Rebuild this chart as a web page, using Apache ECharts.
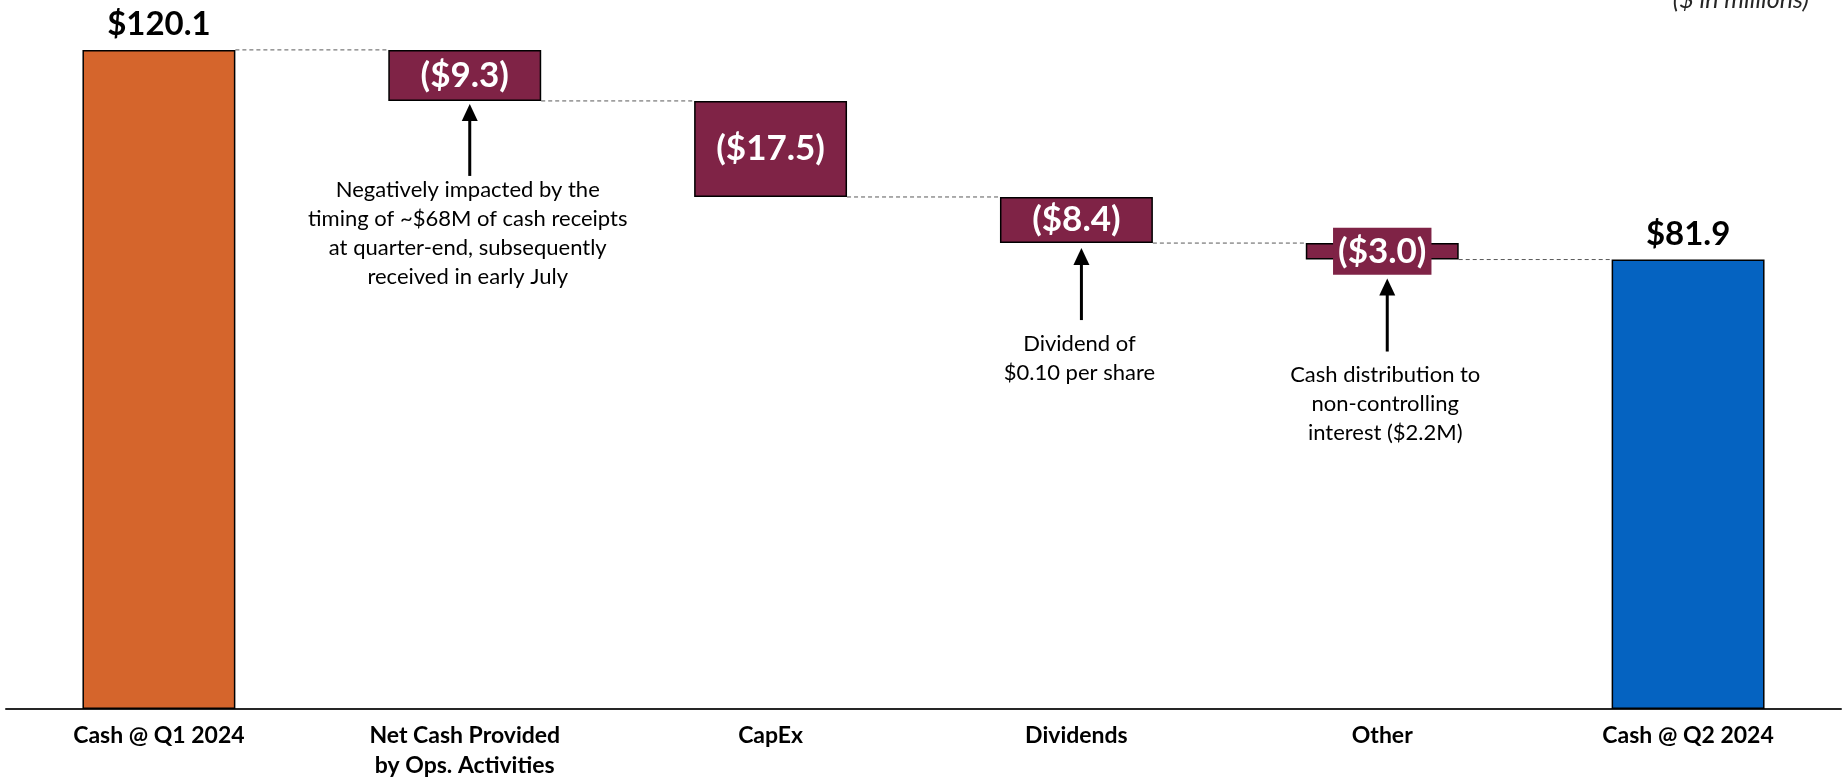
<!DOCTYPE html>
<html>
<head>
<meta charset="utf-8">
<script src="https://cdn.jsdelivr.net/npm/echarts@6/dist/echarts.min.js"></script>
<style>
  html, body { margin: 0; padding: 0; background: #ffffff; }
  #chart { width: 1845px; height: 781px; }
</style>
</head>
<body>
<div id="chart"></div>
<script>
// ---- data ----
const categories = ['Cash @ Q1 2024', 'Net Cash Provided\nby Ops. Activities', 'CapEx', 'Dividends', 'Other', 'Cash @ Q2 2024'];
const startCash = 120.1;
const changes = [-9.3, -17.5, -8.4, -3.0];
const endCash = 81.9;
const annotationCats = [1, 3, 4];
const annotationTexts = [
  'Negatively impacted by the\ntiming of ~$68M of cash receipts\nat quarter-end, subsequently\nreceived in early July',
  'Dividend of\n$0.10 per share',
  'Cash distribution to\nnon-controlling\ninterest ($2.2M)'
];
const unitNote = '($ in millions)';

// ---- derived ----
const FONT = 'Lato, "Open Sans", sans-serif';
const ORANGE = '#D5652C', MAROON = '#7F2346', BLUE = '#0563C1';
const levels = [startCash];
changes.forEach(c => levels.push(+(levels[levels.length - 1] + c).toFixed(1)));
const baseData = [0];
const valData = [];
valData.push({ value: startCash, itemStyle: { color: ORANGE },
  label: { position: 'top', color: '#000', fontSize: 33, formatter: '$' + startCash.toFixed(1) } });
changes.forEach((c, i) => {
  baseData.push(levels[i + 1]);
  const item = { value: Math.abs(c), itemStyle: { color: MAROON },
    label: { position: 'inside', color: '#fff', fontSize: 35, formatter: '($' + Math.abs(c).toFixed(1) + ')' } };
  if (i === changes.length - 1) {
    item.label.backgroundColor = MAROON;
    item.label.padding = [6, 5, 6, 5];
  }
  valData.push(item);
});
baseData.push(0);
valData.push({ value: endCash, itemStyle: { color: BLUE },
  label: { position: 'top', color: '#000', fontSize: 33, formatter: '$' + endCash.toFixed(1) } });

const connectorData = levels.map((l, i) => [i, l]);
const annData = annotationCats.map((c, i) => [c, levels[c], i]);
// arrow tip offset below bar bottom, arrow length, text gap below arrow tail
const annLayout = [
  { tip: 3, len: 72, gap: -1 },
  { tip: 5, len: 72, gap: 9 },
  { tip: 19, len: 73, gap: 9 }
];

const chart = echarts.init(document.getElementById('chart'), null, { renderer: 'canvas' });
chart.setOption({
  animation: false,
  backgroundColor: '#ffffff',
  grid: { left: 6, right: 4, top: 23, bottom: 68, containLabel: false },
  xAxis: {
    type: 'category', data: categories,
    axisLine: { lineStyle: { color: '#262626', width: 2 } },
    axisTick: { show: false },
    axisLabel: { interval: 0, margin: 12, color: '#000', fontFamily: FONT, fontWeight: 'bold', fontSize: 23, lineHeight: 30 }
  },
  yAxis: { type: 'value', min: 0, max: 125, show: false, splitLine: { show: false } },
  graphic: [{
    type: 'text', right: 1845 - 1809, top: -13,
    style: { text: unitNote, fontFamily: FONT, fontStyle: 'italic', fontSize: 25, fill: '#262626' }
  }],
  series: [
    { type: 'bar', stack: 'w', data: baseData, barWidth: '50%', itemStyle: { color: 'transparent' }, silent: true },
    { type: 'bar', stack: 'w', data: valData, barWidth: '50%',
      itemStyle: { borderColor: '#000', borderWidth: 1.5 },
      label: { show: true, fontFamily: FONT, fontWeight: 'bold', distance: 9 } },
    { type: 'custom', data: connectorData,
      renderItem: function (params, api) {
        const i = api.value(0);
        const p = api.coord([i, api.value(1)]);
        const bw = api.size([1, 0])[0];
        return { type: 'line', shape: { x1: p[0] + bw * 0.25, y1: p[1], x2: p[0] + bw * 0.75, y2: p[1] },
          style: { stroke: '#595959', lineWidth: 1, lineDash: [4, 3] } };
      }, z: 1 },
    { type: 'custom', data: annData,
      renderItem: function (params, api) {
        const idx = api.value(2);
        const L = annLayout[idx];
        const p = api.coord([api.value(0), api.value(1)]);
        const x = p[0] + 5;
        const tip = p[1] + L.tip;
        const tail = tip + L.len;
        return { type: 'group', children: [
          { type: 'line', shape: { x1: x, y1: tip + 14, x2: x, y2: tail }, style: { stroke: '#000', lineWidth: 3 } },
          { type: 'polygon', shape: { points: [[x, tip], [x - 8, tip + 17], [x + 8, tip + 17]] }, style: { fill: '#000' } },
          { type: 'text', x: x - 2, y: tail + L.gap,
            style: { text: annotationTexts[idx], fontFamily: FONT, fontSize: 22, lineHeight: 29, fill: '#000',
              textAlign: 'center', textVerticalAlign: 'top' } }
        ] };
      }, z: 3 }
  ]
});
</script>
</body>
</html>
